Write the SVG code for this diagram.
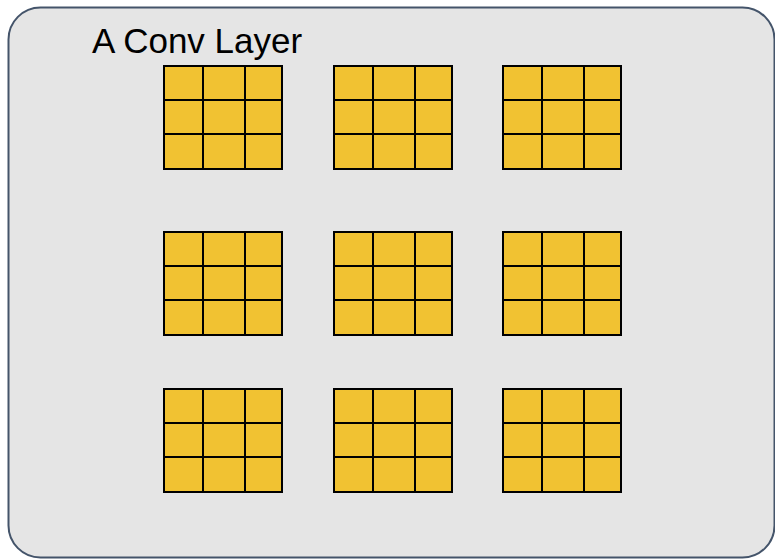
<svg xmlns="http://www.w3.org/2000/svg" width="775" height="559" viewBox="0 0 775 559">
<defs>
<style>
.bg{fill:#e5e5e5;stroke:#44546a;stroke-width:2}
.cell{fill:#f1c232;stroke:#000;stroke-width:2}
.t{font-family:"Liberation Sans",Arial,sans-serif;font-size:35px;fill:#000}
</style>
<g id="grid">
<rect class="cell" x="0" y="0" width="39" height="34"/>
<rect class="cell" x="39" y="0" width="42" height="34"/>
<rect class="cell" x="81" y="0" width="37" height="34"/>
<rect class="cell" x="0" y="34" width="39" height="34"/>
<rect class="cell" x="39" y="34" width="42" height="34"/>
<rect class="cell" x="81" y="34" width="37" height="34"/>
<rect class="cell" x="0" y="68" width="39" height="35"/>
<rect class="cell" x="39" y="68" width="42" height="35"/>
<rect class="cell" x="81" y="68" width="37" height="35"/>
</g>
</defs>
<g id="layer">
<rect class="bg" x="8.5" y="7.5" width="766" height="550" rx="32" ry="32"/>
<text class="t" x="92" y="53">A Conv Layer</text>
</g>
<g id="k11"><use href="#grid" x="164" y="66"/></g>
<g id="k12"><use href="#grid" x="334" y="66"/></g>
<g id="k13"><use href="#grid" x="503" y="66"/></g>
<g id="k21"><use href="#grid" x="164" y="232"/></g>
<g id="k22"><use href="#grid" x="334" y="232"/></g>
<g id="k23"><use href="#grid" x="503" y="232"/></g>
<g id="k31"><use href="#grid" x="164" y="389"/></g>
<g id="k32"><use href="#grid" x="334" y="389"/></g>
<g id="k33"><use href="#grid" x="503" y="389"/></g>
<g id="connectors"/>
</svg>
